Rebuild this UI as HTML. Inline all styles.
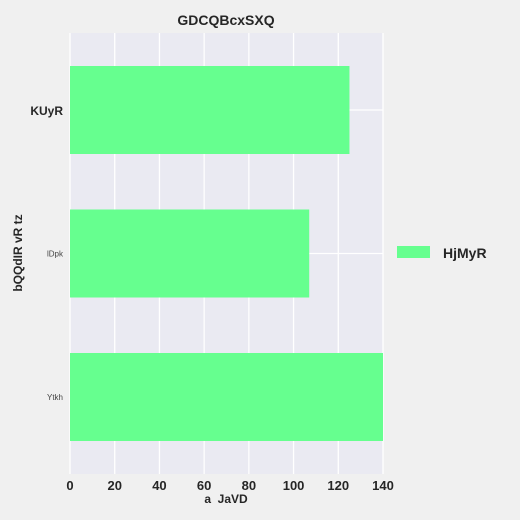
<!DOCTYPE html>
<html><head><meta charset="utf-8"><style>
body{margin:0;background:#f0f0f0;}
svg{display:block;font-family:"Liberation Sans",sans-serif;}
</style></head><body>
<svg id="c" width="520" height="520">
<rect x="0" y="0" width="520" height="520" fill="#f0f0f0"/>
<rect x="70" y="33" width="313" height="441" fill="#eaeaf2"/>
<g id="grid"></g>
<g id="bars"></g>
<g id="xt"></g>
<g id="yt"></g>
<text x="226" y="25" text-anchor="middle" font-size="14" font-weight="bold" fill="#262626">GDCQBcxSXQ</text>
<text x="226" y="503" text-anchor="middle" font-size="12" font-weight="bold" fill="#262626">a&#160; JaVD</text>
<text transform="translate(22,253) rotate(-90)" text-anchor="middle" font-size="12" font-weight="bold" fill="#262626">bQQdIR vR tz</text>
<g>
<rect x="397" y="246" width="33" height="12" fill="#66ff8f"/>
<text x="443" y="258" font-size="14" font-weight="bold" fill="#262626">HjMyR</text>
</g>
</svg>
<script>
const categories=["KUyR","lDpk","Ytkh"];
const values=[125,107,140];
const xTicks=[0,20,40,60,80,100,120,140];
const NS="http://www.w3.org/2000/svg";
const x=v=>70+v*(313/140);
const y=i=>110+i*143.5;
function mk(t,a,p){const e=document.createElementNS(NS,t);for(const k in a)e.setAttribute(k,a[k]);document.getElementById(p).appendChild(e);return e;}
xTicks.forEach(t=>{
 const g=mk("line",{x1:x(t),x2:x(t),y1:33,y2:474,stroke:"#fff","stroke-width":1.3},"grid");
 
 
 const l=mk("text",{x:x(t),y:490,"text-anchor":"middle","font-size":13,"font-weight":"bold",fill:"#262626"},"xt");
 l.textContent=t;
 
 
});
categories.forEach((c,i)=>{
 const g=mk("line",{x1:70,x2:383,y1:y(i),y2:y(i),stroke:"#fff","stroke-width":1.3},"grid");
 
 
 const b=mk("rect",{x:x(0),y:y(i)-44,width:x(values[i])-x(0),height:88,fill:"#66ff8f"},"bars");
 
 
 const big=i===0;
 const l=mk("text",{x:63,y:y(i)+(big?5:3),"text-anchor":"end","font-size":big?12:8,"font-weight":big?"bold":"normal",fill:big?"#262626":"#444"},"yt");
 l.textContent=c;
 
 
});
</script>
</body></html>
